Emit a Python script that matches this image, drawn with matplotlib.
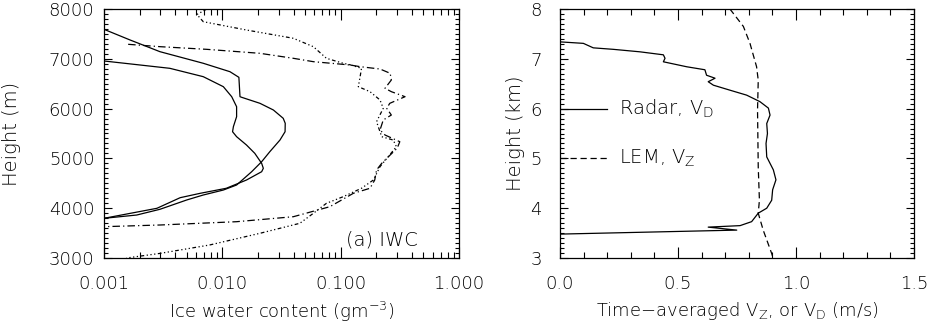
import matplotlib
matplotlib.use("Agg")
import matplotlib.pyplot as plt
from matplotlib.ticker import LogLocator, FixedLocator, MultipleLocator, FormatStrFormatter, NullFormatter

plt.rcParams['font.family'] = ['DejaVu Sans']
plt.rcParams['font.weight'] = 'light'
plt.rcParams['axes.labelweight'] = 'light'
plt.rcParams['mathtext.default'] = 'regular'

# (a) ice water content profiles, g m^-3 vs height (m)
iwc_radar1 = [0.001, 0.00166, 0.00297, 0.0069, 0.0116, 0.0138, 0.0141, 0.0146, 0.0208, 0.0270,
              0.0327, 0.0340, 0.0339, 0.0307, 0.0252, 0.0215, 0.0177, 0.0132, 0.0102, 0.0069,
              0.0050, 0.00297, 0.00189, 0.001]
h_radar1 = [7592, 7378, 7143, 6910, 6741, 6628, 6239, 6226, 6106, 5972,
            5805, 5705, 5536, 5369, 5135, 4934, 4733, 4466, 4365, 4265,
            4165, 3978, 3863, 3797]

iwc_radar2 = [0.001, 0.0036, 0.0069, 0.0102, 0.0120, 0.0132, 0.0132, 0.0124, 0.0122, 0.0132,
              0.0160, 0.0188, 0.0215, 0.0222, 0.0215, 0.0160, 0.0108, 0.0065, 0.0044, 0.0028, 0.001]
h_radar2 = [6956, 6809, 6641, 6440, 6239, 6038, 5837, 5637, 5536, 5436,
            5269, 5102, 4900, 4801, 4733, 4566, 4400, 4299, 4211, 3998, 3797]

iwc_model1 = [0.0016, 0.0030, 0.0074, 0.0208, 0.0398, 0.0588, 0.120, 0.146, 0.215, 0.262,
              0.268, 0.237, 0.268, 0.350, 0.260, 0.245, 0.268, 0.229, 0.215, 0.237,
              0.316, 0.300, 0.262, 0.222, 0.201, 0.194, 0.177, 0.128, 0.081, 0.0398,
              0.0132, 0.0030, 0.001]
h_model1 = [7291, 7243, 7190, 7110, 7010, 6942, 6876, 6842, 6795, 6709,
            6574, 6408, 6340, 6239, 6106, 6006, 5871, 5771, 5570, 5470,
            5335, 5203, 5068, 4900, 4767, 4566, 4400, 4299, 4030, 3829,
            3729, 3663, 3629]

iwc_model2 = [0.0074, 0.0061, 0.0069, 0.016, 0.0398, 0.0588, 0.0758, 0.105, 0.120, 0.150,
              0.146, 0.141, 0.177, 0.215, 0.229, 0.201, 0.215, 0.222, 0.278, 0.296,
              0.252, 0.215, 0.189, 0.150, 0.105, 0.0758, 0.0588, 0.0452, 0.0208, 0.0078,
              0.0030, 0.00155]
h_model2 = [8000, 7890, 7745, 7578, 7412, 7243, 7010, 6910, 6880, 6809,
            6641, 6440, 6340, 6173, 6006, 5737, 5536, 5436, 5369, 5235,
            5034, 4834, 4566, 4400, 4231, 4098, 3898, 3697, 3496, 3261,
            3094, 3000]

# (b) fall speeds, m/s vs height (km)
vd = [0, 0.099, 0.141, 0.226, 0.339, 0.438, 0.445, 0.438, 0.537, 0.614,
      0.621, 0.657, 0.628, 0.650, 0.720, 0.791, 0.847, 0.883, 0.890, 0.876,
      0.879, 0.873, 0.876, 0.904, 0.915, 0.901, 0.897, 0.876, 0.840, 0.812,
      0.763, 0.628, 0.749, 0]
h_vd = [7.34, 7.31, 7.22, 7.19, 7.14, 7.08, 7.01, 6.94, 6.84, 6.78,
        6.67, 6.61, 6.54, 6.47, 6.37, 6.27, 6.14, 6.01, 5.87, 5.70,
        5.50, 5.30, 5.03, 4.77, 4.57, 4.37, 4.16, 4.00, 3.90, 3.73,
        3.65, 3.62, 3.56, 3.48]

vz = [0.720, 0.777, 0.805, 0.833, 0.840, 0.837, 0.840, 0.845, 0.840, 0.861, 0.897, 0.904]
h_vz = [8.00, 7.65, 7.31, 6.84, 6.57, 5.97, 4.83, 4.16, 3.90, 3.56, 3.09, 2.98]

FS = 13
LW = 0.9

fig = plt.figure(figsize=(9.4, 3.25), dpi=100)
ax1 = fig.add_axes([104 / 940, 67 / 325, 355 / 940, 249 / 325])
ax2 = fig.add_axes([560 / 940, 67 / 325, 354 / 940, 249 / 325])

# --- left panel
ax1.plot(iwc_radar1, h_radar1, color='black', lw=LW)
ax1.plot(iwc_radar2, h_radar2, color='black', lw=LW)
ax1.plot(iwc_model1, h_model1, color='black', lw=LW, dashes=(6, 2.5, 1, 2.5))
ax1.plot(iwc_model2, h_model2, color='black', lw=LW, dashes=(3, 2, 1, 2, 1, 2, 1, 2))
ax1.set_xscale('log')
ax1.set_xlim(0.001, 1.0)
ax1.set_ylim(3000, 8000)
ax1.xaxis.set_major_locator(FixedLocator([0.001, 0.01, 0.1, 1.0]))
ax1.xaxis.set_major_formatter(FormatStrFormatter('%.3f'))
ax1.xaxis.set_minor_locator(LogLocator(base=10, subs=range(2, 10)))
ax1.xaxis.set_minor_formatter(NullFormatter())
ax1.yaxis.set_major_locator(MultipleLocator(1000))
ax1.yaxis.set_minor_locator(MultipleLocator(100))
ax1.set_xlabel('Ice water content (gm$^{-3}$)', fontsize=FS)
ax1.set_ylabel('Height (m)', fontsize=14)
ax1.xaxis.set_label_coords(0.5, -0.17)
ax1.yaxis.set_label_coords(-0.235, 0.5)
ax1.text(0.885, 0.072, '(a) IWC', transform=ax1.transAxes, fontsize=14,
         ha='right', va='center')
ax1.tick_params(axis='y', which='major', pad=7)

# --- right panel
ax2.plot(vd, h_vd, color='black', lw=LW)
ax2.plot(vz, h_vz, color='black', lw=LW, dashes=(5, 3))
ax2.set_xlim(0, 1.5)
ax2.set_ylim(3, 8)
ax2.xaxis.set_major_locator(MultipleLocator(0.5))
ax2.xaxis.set_minor_locator(MultipleLocator(0.1))
ax2.xaxis.set_major_formatter(FormatStrFormatter('%.1f'))
ax2.yaxis.set_major_locator(MultipleLocator(1))
ax2.yaxis.set_minor_locator(MultipleLocator(0.1))
ax2.set_xlabel('Time\u2212averaged V$_Z$, or V$_D$ (m/s)', fontsize=FS)
ax2.set_ylabel('Height (km)', fontsize=14)
ax2.xaxis.set_label_coords(0.5, -0.17)
ax2.yaxis.set_label_coords(-0.1, 0.5)
ax2.tick_params(axis='y', which='major', pad=13)

# line legend drawn in data space
ax2.plot([0, 0.2], [6, 6], color='black', lw=LW)
ax2.plot([0, 0.2], [5, 5], color='black', lw=LW, dashes=(5, 3))
ax2.text(0.25, 6, 'Radar, V$_D$', fontsize=14, va='center', ha='left')
ax2.text(0.25, 5, 'LEM, V$_Z$', fontsize=14, va='center', ha='left')

for ax in (ax1, ax2):
    ax.tick_params(which='both', direction='in', top=True, right=True,
                   labelsize=FS, width=0.8)
    ax.tick_params(axis='x', which='major', length=8, pad=12)
    ax.tick_params(axis='x', which='minor', length=4)
    ax.tick_params(axis='y', which='major', length=6)
    ax.tick_params(axis='y', which='minor', length=3)
    for s in ax.spines.values():
        s.set_linewidth(0.9)

fig.savefig('out.png', dpi=100)
